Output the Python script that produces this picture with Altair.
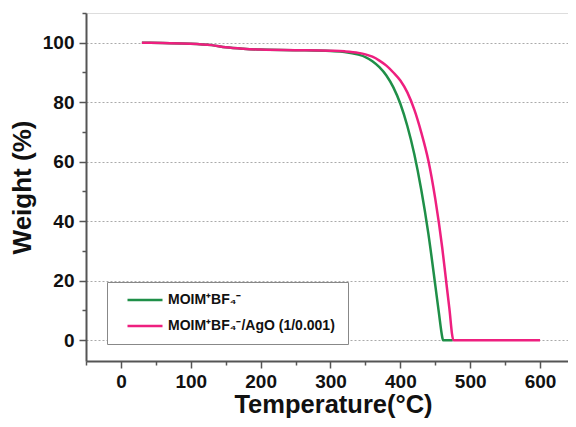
import altair as alt
import pandas as pd

series_names = ["MOIM⁺BF₄⁻", "MOIM⁺BF₄⁻/AgO (1/0.001)"]
colors = ["#1f8f48", "#ee1f7f"]

green_t = [30, 60, 100, 130, 150, 175, 200, 250, 300, 320, 340, 350, 360, 370, 380, 390, 400, 410, 420, 430, 440, 450, 455, 460, 461, 475]
green_w = [100, 99.9, 99.7, 99.2, 98.5, 98.0, 97.7, 97.5, 97.2, 96.9, 96.0, 95.2, 93.8, 91.8, 89.0, 85.0, 79.5, 72.0, 62.5, 50.5, 36.0, 18.5, 9.5, 1.0, 0, 0]

pink_t = [30, 60, 100, 130, 150, 175, 200, 250, 300, 320, 340, 350, 360, 370, 380, 390, 400, 410, 420, 430, 440, 450, 460, 465, 470, 476, 600]
pink_w = [100, 99.9, 99.7, 99.2, 98.5, 98.0, 97.7, 97.5, 97.3, 97.1, 96.6, 96.1, 95.3, 94.0, 92.3, 90.0, 87.3, 83.3, 77.5, 69.8, 60.5, 47.5, 31.0, 21.0, 11.0, 0, 0]

x_major = [0, 100, 200, 300, 400, 500, 600]
x_minor = [-50, 50, 150, 250, 350, 450, 550]
y_major = [0, 20, 40, 60, 80, 100]
y_minor = [10, 30, 50, 70, 90, 110]

rows = []
for t, w in zip(green_t, green_w):
    rows.append({"T": t, "W": w, "series": series_names[0], "order": 0})
for t, w in zip(pink_t, pink_w):
    rows.append({"T": t, "W": w, "series": series_names[1], "order": 1})
df = pd.DataFrame(rows)

FONT = "Liberation Sans"
AX = "#555555"

xscale = alt.Scale(domain=[-50, 640], nice=False, zero=False)
yscale = alt.Scale(domain=[-7, 110], nice=False, zero=False)

lines = alt.Chart(df).mark_line(strokeWidth=2.5, interpolate="monotone").encode(
    x=alt.X("T:Q", scale=xscale,
            axis=alt.Axis(values=x_major, title="Temperature(°C)", grid=False,
                          tickSize=7, tickWidth=1.5, tickColor=AX, domainColor=AX, domainWidth=2,
                          labelFont=FONT, labelFontSize=19, labelFontWeight="bold", labelColor="#111",
                          labelPadding=4, titleFont=FONT, titleFontSize=25.5, titleFontWeight="bold",
                          titleColor="#111", titlePadding=1, titleX=247, labelFlush=False)),
    y=alt.Y("W:Q", scale=yscale,
            axis=alt.Axis(values=y_major, title="Weight (%)", grid=True, gridColor="#aaaaaa",
                          gridDash=[2, 2], gridWidth=1,
                          tickSize=7, tickWidth=1.5, tickColor=AX, domainColor=AX, domainWidth=2,
                          labelFont=FONT, labelFontSize=19, labelFontWeight="bold", labelColor="#111",
                          labelPadding=5, titleFont=FONT, titleFontSize=26, titleFontWeight="bold",
                          titleColor="#111", titlePadding=7, labelFlush=False)),
    color=alt.Color("series:N", scale=alt.Scale(domain=series_names, range=colors),
                    legend=alt.Legend(title=" ", titleOrient="right", titleFontSize=1, titlePadding=2,
                                      orient="none", legendX=21, legendY=269,
                                      symbolType="stroke", symbolSize=1225, symbolStrokeWidth=2.5,
                                      symbolOffset=8, clipHeight=14,
                                      labelFont=FONT, labelFontSize=14, labelFontWeight="bold",
                                      labelColor="#111", labelOffset=4, padding=11, rowPadding=12,
                                      strokeColor="#888888", fillColor="white", labelLimit=400)),
    detail="order:N",
)

minor = alt.Chart(df).mark_point(opacity=0, size=1).encode(
    x=alt.X("T:Q", scale=xscale,
            axis=alt.Axis(values=x_minor, orient="bottom", labels=False, title=None, grid=False,
                          tickSize=4, tickWidth=1.5, tickColor=AX, domain=False)),
    y=alt.Y("W:Q", scale=yscale,
            axis=alt.Axis(values=y_minor, orient="left", labels=False, title=None, grid=False,
                          tickSize=4, tickWidth=1.5, tickColor=AX, domain=False)),
)

chart = alt.layer(lines, minor).resolve_axis(x="independent", y="independent").properties(
    width=482, height=348,
    autosize=alt.AutoSizeParams(type="none"),
    padding={"left": 78, "top": 5, "right": 0, "bottom": 58},
).configure_view(strokeOpacity=0).configure(background="white")

chart.save("out.html", embed_options={"renderer": "svg", "actions": False})
